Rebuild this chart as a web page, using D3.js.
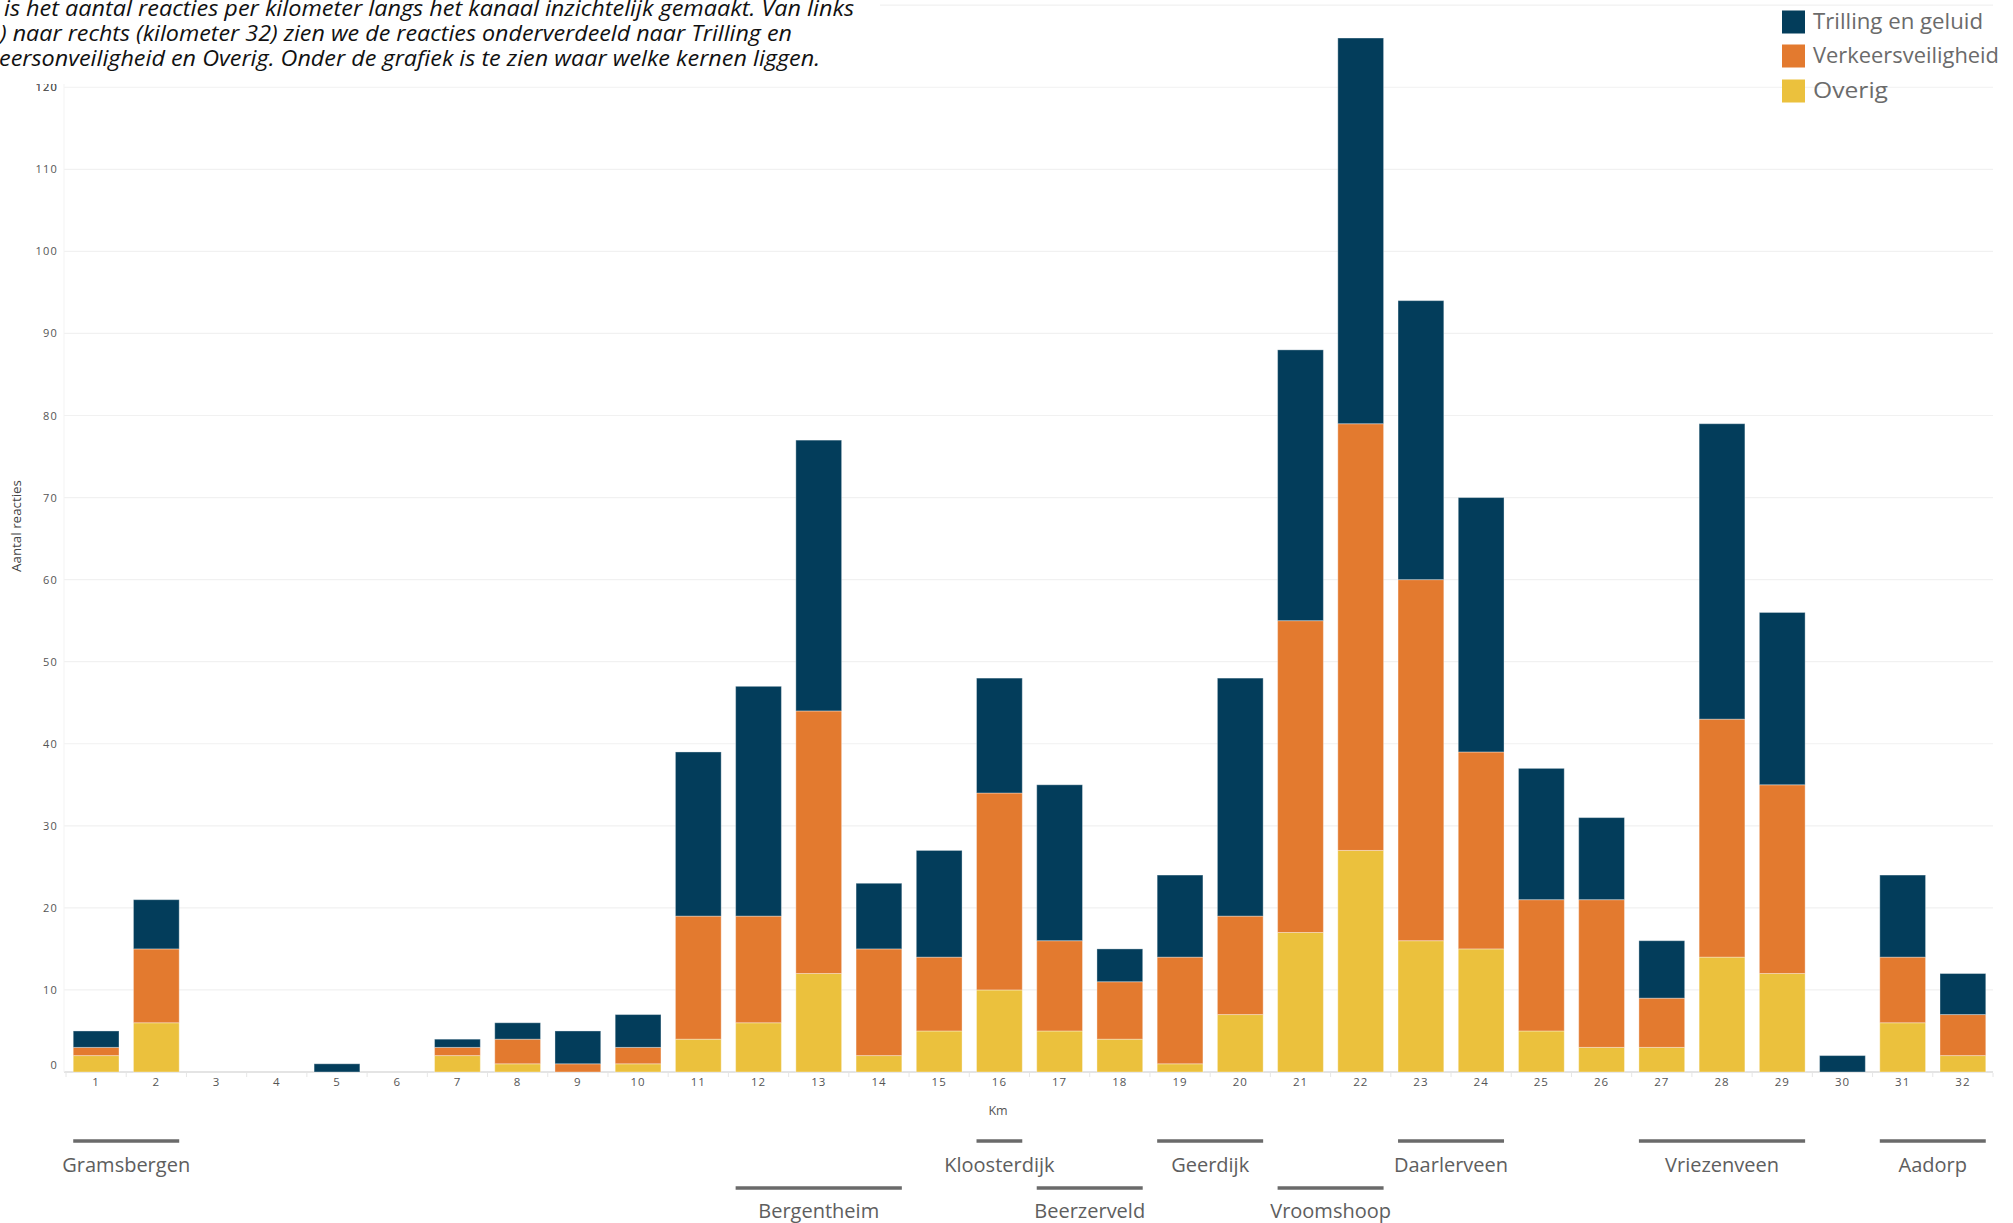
<!DOCTYPE html>
<html>
<head>
<meta charset="utf-8">
<script src="https://cdn.jsdelivr.net/npm/d3@7/dist/d3.min.js"></script>
<style>
  body { margin: 0; background: #fff; }
  svg { display: block; }
</style>
</head>
<body>
<svg id="chart" width="2013" height="1223"></svg>
<script>
// Kilometres along the canal
const km = [1, 2, 3, 4, 5, 6, 7, 8, 9, 10, 11, 12, 13, 14, 15, 16,
            17, 18, 19, 20, 21, 22, 23, 24, 25, 26, 27, 28, 29, 30, 31, 32];

// Reactions per kilometre, per theme
const overig             = [2, 6, 0, 0, 0, 0, 2, 1, 0, 1, 4, 6, 12, 2, 5, 10,
                            5, 4, 1, 7, 17, 27, 16, 15, 5, 3, 3, 14, 12, 0, 6, 2];
const verkeersveiligheid = [1, 9, 0, 0, 0, 0, 1, 3, 1, 2, 15, 13, 32, 13, 9, 24,
                            11, 7, 13, 12, 38, 52, 44, 24, 16, 18, 6, 29, 23, 0, 8, 5];
const trillingEnGeluid   = [2, 6, 0, 0, 1, 0, 1, 2, 4, 4, 20, 28, 33, 8, 13, 14,
                            19, 4, 10, 29, 33, 47, 34, 31, 16, 10, 7, 36, 21, 2, 10, 5];

const seriesNames = ["Trilling en geluid", "Verkeersveiligheid", "Overig"];
const yTickLabels = [0, 10, 20, 30, 40, 50, 60, 70, 80, 90, 100, 110, 120];
const gridValues  = [0, 10, 20, 30, 40, 50, 60, 70, 80, 90, 100, 110, 120, 130];

// Villages along the route (first and last km they cover, label row)
const kernen   = ["Gramsbergen", "Bergentheim", "Kloosterdijk", "Beerzerveld", "Geerdijk",
                  "Vroomshoop", "Daarlerveen", "Vriezenveen", "Aadorp"];
const kernVan  = [1, 12, 16, 17, 19, 21, 23, 27, 31];
const kernTot  = [2, 14, 16, 18, 20, 22, 24, 29, 32];
const kernRij  = [0, 1, 0, 1, 0, 1, 0, 0, 0];

const introLines = [
  "is het aantal reacties per kilometer langs het kanaal inzichtelijk gemaakt. Van links",
  ") naar rechts (kilometer 32) zien we de reacties onderverdeeld naar Trilling en",
  "eersonveiligheid en Overig. Onder de grafiek is te zien waar welke kernen liggen."
];

const colors = {
  "Trilling en geluid": "#033d5b",
  "Verkeersveiligheid": "#e37a2f",
  "Overig": "#ebc13d"
};

const svg = d3.select("#chart");

const rows = km.map((k, i) => ({
  km: k,
  "Overig": overig[i],
  "Verkeersveiligheid": verkeersveiligheid[i],
  "Trilling en geluid": trillingEnGeluid[i]
}));

const x = d3.scaleBand().domain(km).range([66, 1993]).paddingInner(0.24).paddingOuter(0.12);
const y = d3.scaleLinear().domain([0, 130]).range([1072, 5.2]);

// gridlines
svg.append("g").selectAll("line").data(gridValues).join("line")
  .attr("x1", 64).attr("x2", 1993)
  .attr("y1", d => y(d)).attr("y2", d => y(d))
  .attr("stroke", d => d === 0 ? "#e4e4e4" : "#f1f1f1")
  .attr("stroke-width", d => d === 0 ? 2 : 1.2);

// faint left edge of the plot
svg.append("line").attr("x1", 64).attr("x2", 64).attr("y1", y(130)).attr("y2", 1072)
  .attr("stroke", "#f3f3f3").attr("stroke-width", 1);

// stacked bars: Overig at the bottom, Trilling en geluid on top
const stack = d3.stack().keys(["Overig", "Verkeersveiligheid", "Trilling en geluid"]);
const layers = stack(rows);

svg.append("g").selectAll("g").data(layers).join("g")
  .attr("fill", d => colors[d.key])
  .selectAll("rect").data(d => d.filter(s => s[1] - s[0] > 0)).join("rect")
  .attr("x", d => x(d.data.km))
  .attr("width", x.bandwidth())
  .attr("y", d => y(d[1]))
  .attr("height", d => y(d[0]) - y(d[1]))
  .attr("stroke", "#ffffff").attr("stroke-opacity", 0.35).attr("stroke-width", 1);

// x axis
const xAxis = svg.append("g").attr("transform", "translate(0,1072)")
  .call(d3.axisBottom(x).tickSize(0).tickPadding(6));
xAxis.select(".domain").remove();
xAxis.selectAll("text")
  .attr("font-family", "'Open Sans', sans-serif").attr("font-size", 11.5)
  .attr("letter-spacing", 1).attr("fill", "#555");

// small separators between categories
svg.append("g").selectAll("line").data(d3.range(km.length + 1)).join("line")
  .attr("x1", i => 66 + i * x.step()).attr("x2", i => 66 + i * x.step())
  .attr("y1", 1073).attr("y2", 1077)
  .attr("stroke", "#e6e6e6").attr("stroke-width", 1);

// y axis labels (the zero label sits a little above its line)
const yAxis = svg.append("g").attr("transform", "translate(58,0)")
  .call(d3.axisLeft(y).tickValues(yTickLabels).tickSize(0).tickPadding(0));
yAxis.select(".domain").remove();
yAxis.selectAll("text")
  .attr("font-family", "'Open Sans', sans-serif").attr("font-size", 11)
  .attr("letter-spacing", 1.2).attr("fill", "#555")
  .attr("y", d => d === 0 ? -7 : 0);

svg.append("text")
  .attr("transform", "translate(21,526) rotate(-90)")
  .attr("text-anchor", "middle")
  .attr("font-family", "'Open Sans', sans-serif").attr("font-size", 12)
  .attr("textLength", 92).attr("lengthAdjust", "spacingAndGlyphs")
  .attr("fill", "#444").text("Aantal reacties");

svg.append("text")
  .attr("x", 998).attr("y", 1115).attr("text-anchor", "middle")
  .attr("font-family", "'Open Sans', sans-serif").attr("font-size", 12.5)
  .attr("fill", "#555").text("Km");

// villages
const kernG = svg.append("g");
const rowLineY = [1141, 1188];
const rowTextY = [1172, 1218];
kernen.forEach((name, i) => {
  const x0 = x(kernVan[i]);
  const x1 = x(kernTot[i]) + x.bandwidth();
  kernG.append("line")
    .attr("x1", x0).attr("x2", x1)
    .attr("y1", rowLineY[kernRij[i]]).attr("y2", rowLineY[kernRij[i]])
    .attr("stroke", "#6a6a6a").attr("stroke-width", 3.5);
  kernG.append("text")
    .attr("x", (x0 + x1) / 2).attr("y", rowTextY[kernRij[i]])
    .attr("text-anchor", "middle")
    .attr("font-family", "'Open Sans', sans-serif").attr("font-size", 20)
    .attr("fill", "#5e5e5e").text(name);
});

// intro text block with its white backing
svg.append("rect").attr("x", 0).attr("y", 0).attr("width", 880).attr("height", 84).attr("fill", "#fff");
const introX = [4, 0, -1];
const introW = [850, 792, 821];
const introY = [16, 41, 66];
introLines.forEach((t, i) => {
  svg.append("text")
    .attr("x", introX[i]).attr("y", introY[i])
    .attr("font-family", "'Open Sans', sans-serif").attr("font-style", "italic")
    .attr("font-size", 22.5).attr("fill", "#111")
    .attr("textLength", introW[i]).attr("lengthAdjust", "spacingAndGlyphs")
    .text(t);
});
// the 120 label sits just under the intro block
svg.append("clipPath").attr("id", "below-intro")
  .append("rect").attr("x", 0).attr("y", 84).attr("width", 200).attr("height", 40);
svg.append("text").attr("x", 58).attr("y", y(120)).attr("dy", "0.32em")
  .attr("text-anchor", "end")
  .attr("font-family", "'Open Sans', sans-serif").attr("font-size", 11)
  .attr("letter-spacing", 1.2).attr("fill", "#555")
  .attr("clip-path", "url(#below-intro)")
  .text(yTickLabels[yTickLabels.length - 1]);

// legend
const legend = svg.append("g").attr("transform", "translate(1782,0)");
const legendY = [22, 56, 91];
const legendW = [170, 186, 75];
seriesNames.forEach((name, i) => {
  legend.append("rect").attr("x", 0).attr("y", legendY[i] - 11.5)
    .attr("width", 23).attr("height", 23).attr("fill", colors[name]);
  legend.append("text").attr("x", 31).attr("y", legendY[i]).attr("dy", "0.35em")
    .attr("font-family", "'Open Sans', sans-serif").attr("font-size", 21)
    .attr("fill", "#6b6b6b")
    .attr("textLength", legendW[i]).attr("lengthAdjust", "spacingAndGlyphs")
    .text(name);
});
</script>
</body>
</html>
